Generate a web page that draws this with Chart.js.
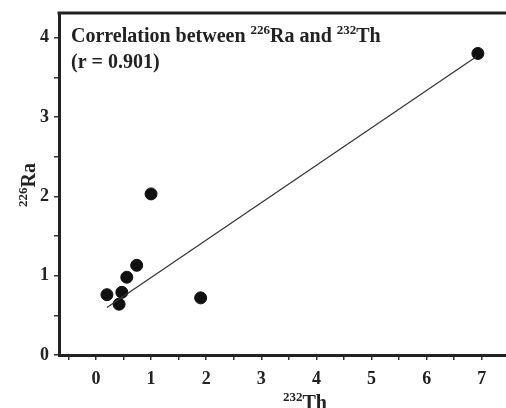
<!DOCTYPE html>
<html>
<head>
<meta charset="utf-8">
<script src="https://cdn.jsdelivr.net/npm/chart.js@4"></script>
<style>
  html, body { margin: 0; padding: 0; background: #fff; }
  #wrap { width: 506px; height: 408px; }
</style>
</head>
<body>
<div id="wrap"><canvas id="myChart"></canvas></div>
<script>
// Th-232 vs Ra-226 samples
var thValues = [0.2, 0.42, 0.47, 0.56, 0.74, 1.0, 1.9, 6.93];
var raValues = [0.76, 0.64, 0.79, 0.98, 1.13, 2.03, 0.72, 3.80];

// fitted line end points
var fitX = [0.2, 6.9];
var fitY = [0.6, 3.76];

var xTicks = [-0.5, 0, 0.5, 1, 1.5, 2, 2.5, 3, 3.5, 4, 4.5, 5, 5.5, 6, 6.5, 7];
var yTicks = [0, 0.5, 1, 1.5, 2, 2.5, 3, 3.5, 4];

var serif = '"Liberation Serif", "Times New Roman", serif';

function drawSup(ctx, parts, x, y, big, small) {
  // parts: [[text, isSup], ...]
  parts.forEach(function (p) {
    ctx.font = 'bold ' + (p[1] ? small : big) + 'px ' + serif;
    ctx.fillText(p[0], x, p[1] ? y - big * 0.42 : y);
    x += ctx.measureText(p[0]).width;
  });
  return x;
}

function partsWidth(ctx, parts, big, small) {
  var w = 0;
  parts.forEach(function (p) {
    ctx.font = 'bold ' + (p[1] ? small : big) + 'px ' + serif;
    w += ctx.measureText(p[0]).width;
  });
  return w;
}

var labelsPlugin = {
  id: 'labels',
  afterDraw: function (chart) {
    var ctx = chart.ctx;
    var area = chart.chartArea;
    ctx.save();
    // top frame line
    ctx.strokeStyle = '#222';
    ctx.lineWidth = 3;
    ctx.beginPath();
    ctx.moveTo(area.left - 1.5, area.top);
    ctx.lineTo(area.right, area.top);
    ctx.stroke();

    ctx.fillStyle = '#222';
    ctx.textBaseline = 'alphabetic';
    ctx.textAlign = 'left';
    drawSup(ctx, [['Correlation between ', false], ['226', true], ['Ra and ', false], ['232', true], ['Th', false]], 71, 42, 20, 13);
    drawSup(ctx, [['(r = 0.901)', false]], 71, 68, 20, 13);

    // x axis title
    var xp = [['232', true], ['Th', false]];
    var w = partsWidth(ctx, xp, 20, 13);
    drawSup(ctx, xp, 305 - w / 2, 409, 20, 13);

    // y axis title
    var yp = [['226', true], ['Ra', false]];
    var wy = partsWidth(ctx, yp, 20, 13);
    ctx.translate(35, 185);
    ctx.rotate(-Math.PI / 2);
    drawSup(ctx, yp, -wy / 2, 0, 20, 13);
    ctx.restore();
  }
};

function init() {
  var ctx = document.getElementById('myChart').getContext('2d');
  var points = thValues.map(function (v, i) { return { x: v, y: raValues[i] }; });
  var fit = fitX.map(function (v, i) { return { x: v, y: fitY[i] }; });

  new Chart(ctx, {
    type: 'scatter',
    data: {
      datasets: [{
        data: fit,
        showLine: true,
        borderColor: '#333',
        borderWidth: 1.2,
        pointRadius: 0
      }, {
        data: points,
        backgroundColor: '#111',
        borderColor: '#111',
        pointRadius: 6,
        pointHoverRadius: 6
      }]
    },
    options: {
      responsive: true,
      maintainAspectRatio: false,
      animation: false,
      events: [],
      layout: { autoPadding: false, padding: { top: 13, right: 0, left: 0, bottom: 0 } },
      plugins: { legend: { display: false }, tooltip: { enabled: false } },
      scales: {
        x: {
          type: 'linear',
          min: -0.67,
          max: 7.44,
          afterBuildTicks: function (axis) {
            axis.ticks = xTicks.map(function (v) { return { value: v }; });
          },
          afterFit: function (axis) { axis.height = 53; axis.paddingRight = 0; axis.paddingLeft = 0; },
          border: { width: 3, color: '#222' },
          grid: { drawOnChartArea: false, drawTicks: true, tickLength: 5, color: '#333', lineWidth: 1.5 },
          ticks: {
            color: '#222',
            padding: 9,
            maxRotation: 0,
            autoSkip: false,
            font: { family: serif, size: 18, weight: 'bold' },
            callback: function (v) { return Number.isInteger(v) ? String(v) : ''; }
          }
        },
        y: {
          min: 0,
          max: 4.31,
          afterBuildTicks: function (axis) {
            axis.ticks = yTicks.map(function (v) { return { value: v }; });
          },
          afterFit: function (axis) { axis.width = 59; axis.paddingTop = 0; axis.paddingBottom = 0; },
          border: { width: 3, color: '#222' },
          grid: { drawOnChartArea: false, drawTicks: true, tickLength: 5, color: '#333', lineWidth: 1.5 },
          ticks: {
            color: '#222',
            padding: 5,
            autoSkip: false,
            font: { family: serif, size: 18, weight: 'bold' },
            callback: function (v) { return Number.isInteger(v) ? String(v) : ''; }
          }
        }
      }
    },
    plugins: [labelsPlugin]
  });
}
init();
</script>
</body>
</html>
